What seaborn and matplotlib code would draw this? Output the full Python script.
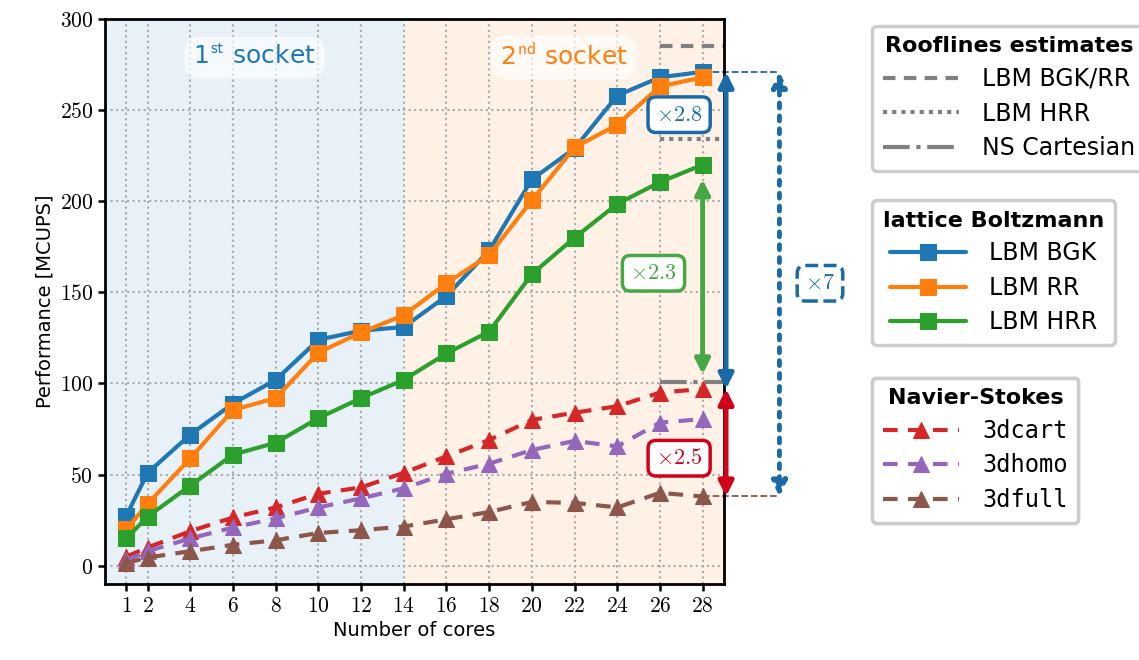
import seaborn as sns
import pandas as pd
import matplotlib.pyplot as plt
from matplotlib.lines import Line2D

cores = [1, 2, 4, 6, 8, 10, 12, 14, 16, 18, 20, 22, 24, 26, 28]

lbm_bgk = [27.5, 51, 72, 89, 102, 124, 129, 131, 148, 173, 212, 229, 258, 268, 271]
lbm_rr = [20, 34, 59, 85.5, 92, 117, 128, 137.5, 155, 170.5, 200.5, 229.5, 242, 263, 268]
lbm_hrr = [15, 27, 44, 61, 67.5, 81, 92, 102, 116.5, 128.5, 160, 180, 198.5, 210.5, 220]

ns_cart = [5, 10, 19, 26.5, 32, 39.5, 43, 51, 60, 69, 80, 84, 87.5, 95, 97]
ns_homo = [3, 8, 15, 21, 26, 32, 37, 42.5, 50.5, 56, 63.5, 68.5, 65.5, 78.5, 80.5]
ns_full = [1.5, 4.5, 8, 11.5, 14, 18, 19.5, 21.5, 25.5, 29.5, 35, 34.5, 32, 40, 38]

roof_bgk_rr = 285
roof_hrr = 234
roof_ns = 101

yticks = [0, 50, 100, 150, 200, 250, 300]

blue, orange, green = "#1f77b4", "#ff7f0e", "#2ca02c"
red, purple, brown = "#d62728", "#9467bd", "#8c564b"

sns.set_style("ticks")
plt.rcParams["mathtext.fontset"] = "cm"
plt.rcParams["font.family"] = ["DejaVu Sans"]
plt.rcParams["text.color"] = "black"

fig = plt.figure(figsize=(11.39, 6.6), dpi=100)
ax = fig.add_axes([0.0922, 0.1152, 0.5434, 0.856])

ax.axvspan(0, 14, color=blue, alpha=0.1, lw=0, zorder=0)
ax.axvspan(14, 29, color=orange, alpha=0.1, lw=0, zorder=0)

lbm = [("LBM BGK", lbm_bgk, blue), ("LBM RR", lbm_rr, orange), ("LBM HRR", lbm_hrr, green)]
ns = [("3dcart", ns_cart, red), ("3dhomo", ns_homo, purple), ("3dfull", ns_full, brown)]

for name, vals, c in lbm:
    sns.lineplot(x=cores, y=vals, ax=ax, color=c, lw=3, marker="s", markersize=11,
                 markeredgecolor=c, label=name, zorder=3)
for name, vals, c in ns:
    sns.lineplot(x=cores, y=vals, ax=ax, color=c, lw=3, marker="^", markersize=11,
                 markeredgecolor=c, label=name, zorder=3)
for line in ax.lines[3:6]:
    line.set_linestyle((0, (3.5, 2.5)))

ax.plot([26, 29], [roof_bgk_rr] * 2, color="grey", lw=3, ls=(0, (3, 2)), zorder=2)
ax.plot([26, 29], [roof_hrr] * 2, color="grey", lw=3, ls=(0, (1, 1.2)), zorder=2)
ax.plot([26, 29], [roof_ns] * 2, color="grey", lw=3, ls="-.", zorder=2)

ax.set_xlim(0, 29)
ax.set_ylim(-10, 300)
ax.set_xticks(cores, labels=[f"${c}$" for c in cores])
ax.set_yticks(yticks, labels=[f"${v}$" for v in yticks])
ax.tick_params(labelsize=15.5, width=1.8, length=5, colors="black")
ax.grid(True, ls=":", color="#aaaaaa", lw=1.5)
for s in ax.spines.values():
    s.set_linewidth(2)
    s.set_color("black")
ax.set_xlabel("Number of cores", fontsize=14, color="black")
ax.set_ylabel("Performance [MCUPS]", fontsize=14, color="black")

box = dict(boxstyle="round,pad=0.35,rounding_size=0.6", fc="white", ec="none", alpha=0.65)
ax.text(7, 279, r"1$^{\mathsf{st}}$ socket", color=blue, fontsize=18, ha="center", va="center", bbox=box)
ax.text(21.5, 279, r"2$^{\mathsf{nd}}$ socket", color=orange, fontsize=18, ha="center", va="center", bbox=box)

# speed-up arrows
dblue, dgreen, dred = "#1a6aa8", "#45a845", "#d0021b"
def arrow(x, y0, y1, c, ls="-"):
    ax.annotate("", xy=(x, y1), xytext=(x, y0), annotation_clip=False,
                arrowprops=dict(arrowstyle="<|-|>", color=c, lw=3.5, ls=ls,
                                mutation_scale=22, shrinkA=0, shrinkB=0))

arrow(29.1, 271, 97, dblue)
arrow(29.1, 97, 38, dred)
arrow(28, 212, 105, dgreen)
arrow(31.6, 271, 38, dblue, ls=":")
ax.plot([28, 31.6], [271, 271], color=dblue, lw=1.3, ls="--", clip_on=False)
ax.plot([28, 31.6], [38.5, 38.5], color=brown, lw=1.3, ls="--", clip_on=False)

def tag(x, y, s, c, ls="-"):
    ax.text(x, y, s, color=c, fontsize=16, ha="center", va="center", zorder=6,
            bbox=dict(boxstyle="round,pad=0.35", fc="white", ec=c, lw=2.5, ls=ls),
            clip_on=False)

tag(26.9, 247.5, r"$\times 2.8$", dblue)
tag(25.7, 160.5, r"$\times 2.3$", dgreen)
tag(26.9, 59, r"$\times 2.5$", dred)
tag(33.5, 155, r"$\times 7$", dblue, ls="--")

# legends
h, l = ax.get_legend_handles_labels()
ax.get_legend().remove()
roof_h = [Line2D([], [], color="grey", lw=3, ls=(0, (3, 2))),
          Line2D([], [], color="grey", lw=3, ls=(0, (1, 1.2))),
          Line2D([], [], color="grey", lw=3, ls="-.")]
leg_kw = dict(loc="upper left", bbox_transform=fig.transFigure, borderaxespad=0,
              title_fontproperties={"weight": "bold", "size": 16}, handlelength=3.2,
              frameon=True, fancybox=True, framealpha=1, borderpad=0.45,
              labelspacing=0.45, handletextpad=1.0, labelcolor="black")
legs = []
legs.append(ax.legend(roof_h, ["LBM BGK/RR", "LBM HRR", "NS Cartesian"], fontsize=17,
                      title="Rooflines estimates", bbox_to_anchor=(0.766, 0.961), **leg_kw))
legs.append(ax.legend(h[:3], l[:3], title="lattice Boltzmann", fontsize=17,
                      bbox_to_anchor=(0.766, 0.697), **leg_kw))
legs.append(ax.legend(h[3:], l[3:], title="Navier-Stokes",
                      bbox_to_anchor=(0.766, 0.428), prop={"family": "DejaVu Sans Mono", "size": 17},
                      **leg_kw))
for lg in legs:
    lg.get_frame().set_edgecolor("#cccccc")
    lg.get_frame().set_linewidth(2.5)
    lg.get_title().set_color("black")
    ax.add_artist(lg)

fig.savefig("out.png", dpi=100)
